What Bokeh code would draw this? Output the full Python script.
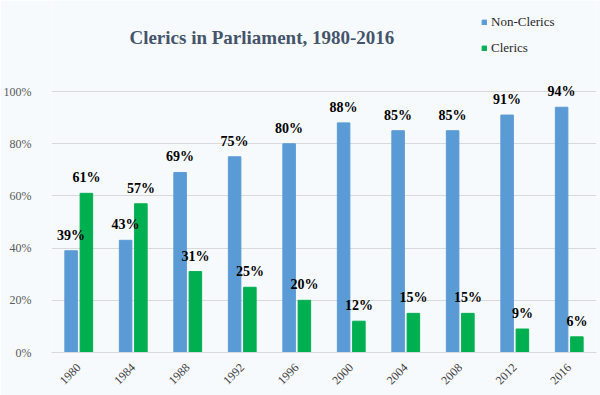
import math
from bokeh.plotting import figure
from bokeh.models import ColumnDataSource, FactorRange, Range1d, FixedTicker, PrintfTickFormatter, Label
from bokeh.transform import dodge
from bokeh.core.properties import value
from bokeh.embed import file_html
from bokeh.resources import INLINE

years = ["1980", "1984", "1988", "1992", "1996", "2000", "2004", "2008", "2012", "2016"]
non_clerics = [39, 43, 69, 75, 80, 88, 85, 85, 91, 94]
clerics = [61, 57, 31, 25, 20, 12, 15, 15, 9, 6]
y_ticks = [0, 20, 40, 60, 80, 100]
title_text = "Clerics in Parliament, 1980-2016"

src = ColumnDataSource(dict(
    year=years,
    non=non_clerics,
    cle=clerics,
    non_lbl=[f"{v}%" for v in non_clerics],
    cle_lbl=[f"{v}%" for v in clerics],
))

BG = "#F7FAFD"
BLUE = "#5B9BD5"
GREEN = "#00B050"
SERIF = "Liberation Serif"
SERIF_Q = "'Liberation Serif', serif"

p = figure(x_range=FactorRange(*years, range_padding=0), y_range=Range1d(0, 134.9),
           width=600, height=395, output_backend="svg", toolbar_location=None,
           min_border_left=44, min_border_right=4, min_border_top=0, min_border_bottom=43)
p.background_fill_color = BG
p.border_fill_color = BG
p.outline_line_color = None

p.xgrid.grid_line_color = None
p.ygrid.grid_line_color = "#D9D9D9"
p.ygrid.ticker = FixedTicker(ticks=y_ticks)

p.yaxis.ticker = FixedTicker(ticks=y_ticks)
p.yaxis.formatter = PrintfTickFormatter(format="%d%%")
p.yaxis.axis_line_color = None
p.yaxis.major_tick_line_color = None
p.yaxis.minor_tick_line_color = None
p.yaxis.major_label_text_font = SERIF_Q
p.yaxis.major_label_text_font_size = "12px"
p.yaxis.major_label_text_color = "#595959"
p.yaxis.major_label_standoff = 14

p.xaxis.axis_line_color = "#D9D9D9"
p.xaxis.major_tick_line_color = None
p.xaxis.minor_tick_line_color = None
p.xaxis.major_label_orientation = math.pi / 4
p.xaxis.major_label_text_font = SERIF_Q
p.xaxis.major_label_text_font_size = "12px"
p.xaxis.major_label_text_color = "#404040"
p.xaxis.major_label_standoff = 7

bx = dodge("year", -0.14, range=p.x_range)
gx = dodge("year", 0.14, range=p.x_range)

p.vbar(x=bx, top="non", width=0.23, source=src, color=BLUE, legend_label="Non-Clerics")
p.vbar(x=gx, top="cle", width=0.23, source=src, color=GREEN, legend_label="Clerics")

for xx, col, lbl in [(bx, "non", "non_lbl"), (gx, "cle", "cle_lbl")]:
    p.text(x=xx, y=col, text=lbl, source=src, text_align="center", text_baseline="bottom",
           y_offset=-8, text_font=value(SERIF), text_font_style="bold",
           text_font_size=value("14px"), text_color="black")

p.add_layout(Label(x=3.86, y=120.7, text=title_text, text_align="center",
                   text_baseline="alphabetic", text_font=SERIF, text_font_style="bold",
                   text_font_size="19px", text_color="#44546A"))

lg = p.legend[0]
lg.location = (430, 294)
lg.orientation = "vertical"
lg.glyph_width = 6
lg.glyph_height = 6
lg.label_standoff = 4
lg.label_height = 20
lg.spacing = 6
lg.padding = 0
lg.margin = 0
lg.border_line_color = None
lg.background_fill_alpha = 0
lg.label_text_font = SERIF_Q
lg.label_text_font_size = "13px"
lg.label_text_color = "#262626"

open("out.html", "w").write(file_html(p, INLINE))
